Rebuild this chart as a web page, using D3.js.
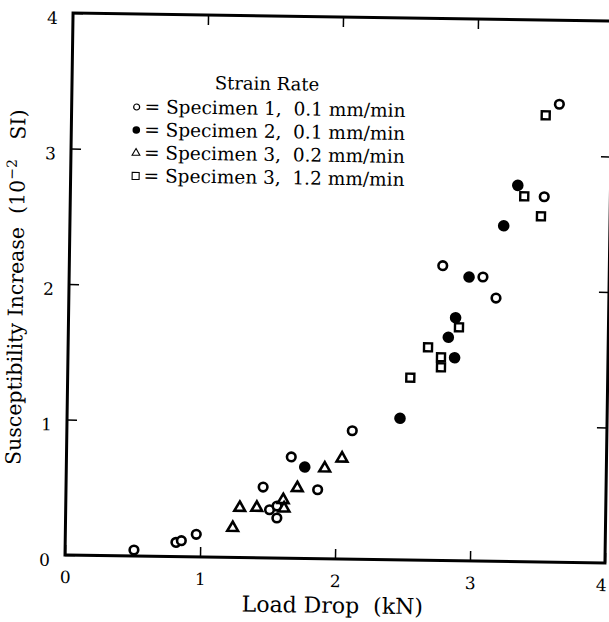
<!DOCTYPE html>
<html>
<head>
<meta charset="utf-8">
<script src="https://cdn.jsdelivr.net/npm/d3@7"></script>
<style>
  body { margin: 0; background: #fff; }
  text { font-family: "DejaVu Serif", serif; fill: #000; white-space: pre; }
</style>
</head>
<body>
<svg id="chart" width="609" height="622"></svg>
<script>
// values (load drop kN, susceptibility 10^-2 SI)
var spec1X = [0.51, 0.82, 0.86, 0.97, 1.46, 1.51, 1.565, 1.565, 1.665, 1.864, 2.114, 2.766, 3.065, 3.164, 3.51, 3.612]
var spec1Y = [0.044, 0.105, 0.118, 0.167, 0.523, 0.356, 0.384, 0.296, 0.748, 0.509, 0.948, 2.176, 2.097, 1.943, 2.696, 3.38]
var spec2X = [1.766, 2.466, 2.815, 2.864, 2.867, 2.962, 3.213, 3.313]
var spec2Y = [0.675, 1.045, 1.648, 1.498, 1.793, 2.095, 2.477, 2.777]
var spec3aX = [1.239, 1.289, 1.415, 1.61, 1.617, 1.713, 1.914, 2.041]
var spec3aY = [0.219, 0.368, 0.37, 0.43, 0.368, 0.52, 0.668, 0.743]
var spec3bX = [2.538, 2.666, 2.763, 2.764, 2.893, 3.362, 3.488, 3.512]
var spec3bY = [1.346, 1.572, 1.5, 1.426, 1.723, 2.697, 2.551, 3.297]

var xTicks = [0, 1, 2, 3, 4]
var yTicks = [0, 1, 2, 3, 4]
var legendLabels = ["Specimen 1,  0.1 mm/min", "Specimen 2,  0.1 mm/min",
                    "Specimen 3,  0.2 mm/min", "Specimen 3,  1.2 mm/min"]

var svg = d3.select("#chart"),
    pLeft = 69, pRight = 609, pTop = 17, pBottom = 559

// the scan is slightly turned, so the whole drawing is too
var g = svg.append("g").attr("transform", "rotate(0.85,339,288)")

var x = d3.scaleLinear().domain([0, 4]).range([pLeft, pRight])
var y = d3.scaleLinear().domain([0, 4]).range([pBottom, pTop])

function styleAxis(sel) {
    sel.select(".domain").remove()
    sel.selectAll("line").attr("stroke", "#000").attr("stroke-width", 1.5)
    sel.selectAll("text").style("font-size", "17px").style("font-family", "\"DejaVu Serif\", serif")
}

var xAxisG = g.append("g")
    .attr("transform", "translate(0," + pBottom + ")")
    .call(d3.axisBottom(x).tickValues(xTicks).tickSize(-10).tickPadding(16).tickFormat(d3.format("d")))
    .call(styleAxis)
// last label sits right on the page edge
xAxisG.selectAll("text").filter(function (d) { return d == 4 }).attr("dx", -4)

g.append("g")
    .attr("transform", "translate(" + pLeft + ",0)")
    .call(d3.axisLeft(y).tickValues(yTicks).tickSize(-10).tickPadding(15).tickFormat(d3.format("d")))
    .call(styleAxis)
    .selectAll("text").attr("dy", "0.62em")

g.append("g")
    .attr("transform", "translate(0," + pTop + ")")
    .call(d3.axisTop(x).tickValues([1, 2, 3]).tickSize(-10).tickFormat(""))
    .call(styleAxis)

g.append("g")
    .attr("transform", "translate(" + pRight + ",0)")
    .call(d3.axisRight(y).tickValues([1, 2, 3]).tickSize(-10).tickFormat(""))
    .call(styleAxis)

g.append("rect")
    .attr("x", pLeft).attr("y", pTop)
    .attr("width", pRight - pLeft).attr("height", pBottom - pTop)
    .attr("fill", "none").attr("stroke", "#000").attr("stroke-width", 3)

// axis titles
g.append("text")
    .attr("x", 337).attr("y", 613)
    .attr("text-anchor", "middle")
    .style("font-size", "22px")
    .text("Load Drop  (kN)")

var yt = g.append("text")
    .attr("transform", "translate(23,292) rotate(-90)")
    .attr("text-anchor", "middle")
    .style("font-size", "20.5px")
yt.append("tspan").text("Susceptibility Increase  (10")
yt.append("tspan").attr("dy", -8).style("font-size", "14px").text("\u22122")
yt.append("tspan").attr("dy", 8).text("   SI)")

// markers
var triangle = d3.symbol().type(d3.symbolTriangle)

function pts(xs, ys) {
    return xs.map(function (d, i) { return [d, ys[i]] })
}

g.selectAll(".s1").data(pts(spec1X, spec1Y)).enter().append("circle")
    .attr("cx", function (d) { return x(d[0]) })
    .attr("cy", function (d) { return y(d[1]) })
    .attr("r", 4.3).attr("fill", "#fff").attr("stroke", "#000").attr("stroke-width", 2.6)

g.selectAll(".s2").data(pts(spec2X, spec2Y)).enter().append("circle")
    .attr("cx", function (d) { return x(d[0]) })
    .attr("cy", function (d) { return y(d[1]) })
    .attr("r", 5.8).attr("fill", "#000")

g.selectAll(".s3a").data(pts(spec3aX, spec3aY)).enter().append("path")
    .attr("d", triangle.size(50))
    .attr("transform", function (d) { return "translate(" + x(d[0]) + "," + y(d[1]) + ")" })
    .attr("fill", "#fff").attr("stroke", "#000").attr("stroke-width", 2.6).attr("stroke-linejoin", "miter")

g.selectAll(".s3b").data(pts(spec3bX, spec3bY)).enter().append("rect")
    .attr("x", function (d) { return x(d[0]) - 4 })
    .attr("y", function (d) { return y(d[1]) - 4 })
    .attr("width", 8).attr("height", 8)
    .attr("fill", "#fff").attr("stroke", "#000").attr("stroke-width", 2.4)

// legend
var lg = g.append("g")
lg.append("text").attr("x", 264).attr("y", 91).attr("text-anchor", "middle")
    .style("font-size", "18px").text("Strain Rate")

var rows = lg.selectAll(".row").data(legendLabels).enter().append("g")
    .attr("transform", function (d, i) { return "translate(134," + (110 + i * 23) + ")" })

rows.append("text").attr("x", 8).attr("y", 6).style("font-size", "18.5px").text(function (d) { return "= " + d })

rows.each(function (d, i) {
    var r = d3.select(this)
    if (i == 0) r.append("circle").attr("r", 3).attr("fill", "none").attr("stroke", "#000").attr("stroke-width", 1.2)
    if (i == 1) r.append("circle").attr("r", 3.8).attr("fill", "#000")
    if (i == 2) r.append("path").attr("d", d3.symbol().type(d3.symbolTriangle).size(26)).attr("fill", "none").attr("stroke", "#000").attr("stroke-width", 1.1)
    if (i == 3) r.append("rect").attr("x", -3.5).attr("y", -3.5).attr("width", 7).attr("height", 7).attr("fill", "none").attr("stroke", "#000").attr("stroke-width", 1.1)
})
</script>
</body>
</html>
